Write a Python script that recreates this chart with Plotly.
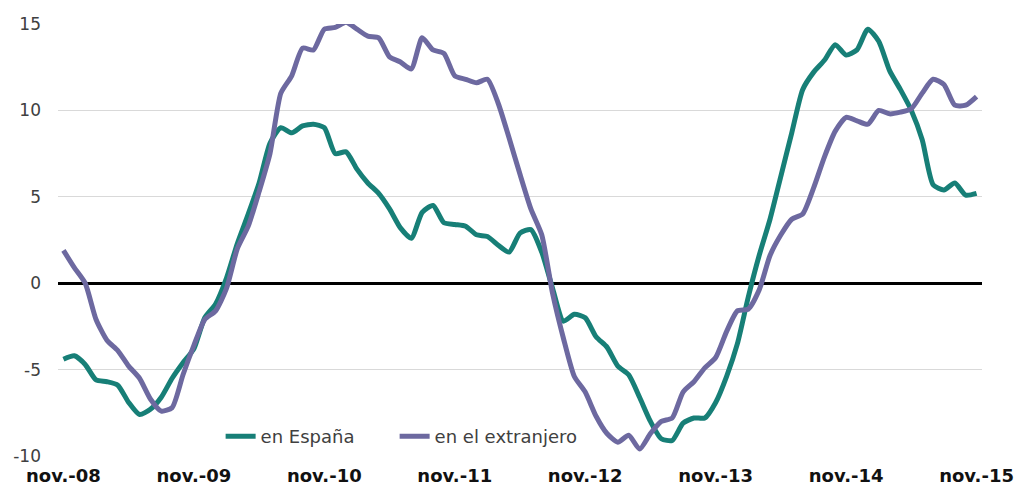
import plotly.graph_objects as go

meses = ["nov.", "dic.", "ene.", "feb.", "mar.", "abr.", "may.", "jun.", "jul.", "ago.", "sep.", "oct."]
# monthly categories Nov-08 .. Nov-15
categorias = []
for k in range(85):
    m = k % 12
    yr = 8 + (k + 10) // 12
    categorias.append(f"{meses[m]}-{yr:02d}")

tick_labels = ["nov.-08", "nov.-09", "nov.-10", "nov.-11", "nov.-12", "nov.-13", "nov.-14", "nov.-15"]
y_ticks = [-10, -5, 0, 5, 10, 15]
y_tick_labels = ["-10", "-5", "0", "5", "10", "15"]

en_espana = [
    -4.4, -4.2, -4.7, -5.6, -5.7, -5.9, -6.9, -7.6, -7.3, -6.6, -5.5, -4.6,
    -3.8, -2.0, -1.2, 0.3, 2.3, 4.0, 5.8, 8.1, 9.0, 8.7, 9.1, 9.2,
    9.0, 7.5, 7.6, 6.6, 5.8, 5.2, 4.3, 3.2, 2.6, 4.1, 4.5, 3.5,
    3.4, 3.3, 2.8, 2.7, 2.2, 1.8, 2.9, 3.1, 1.8, -0.3, -2.2, -1.8,
    -2.0, -3.1, -3.7, -4.8, -5.3, -6.6, -8.0, -9.0, -9.1, -8.1, -7.8, -7.8,
    -6.9, -5.4, -3.5, -0.8, 1.6, 3.7, 6.2, 8.7, 11.2, 12.2, 12.9, 13.8,
    13.2, 13.5, 14.7, 14.0, 12.3, 11.2, 10.0, 8.3, 5.7, 5.4, 5.8, 5.1,
    5.2,
]

en_extranjero = [
    1.9, 0.9, 0.0, -2.1, -3.3, -3.9, -4.8, -5.5, -6.7, -7.4, -7.2, -5.3,
    -3.6, -2.1, -1.6, -0.3, 2.0, 3.3, 5.3, 7.5, 11.0, 12.0, 13.6, 13.5,
    14.7, 14.8, 15.1, 14.7, 14.3, 14.2, 13.1, 12.8, 12.4, 14.2, 13.5, 13.3,
    12.0, 11.8, 11.6, 11.8, 10.4, 8.4, 6.3, 4.3, 2.8, -0.6, -3.2, -5.4,
    -6.3, -7.7, -8.7, -9.2, -8.8, -9.6, -8.7, -8.0, -7.8, -6.3, -5.7, -4.9,
    -4.3, -2.8, -1.6, -1.5, -0.4, 1.6, 2.8, 3.7, 4.0, 5.5, 7.3, 8.8,
    9.6, 9.4, 9.2, 10.0, 9.8, 9.9, 10.1, 11.0, 11.8, 11.5, 10.3, 10.3,
    10.8,
]

color_es = "#177f77"
color_ex = "#6d69a0"

fig = go.Figure()
fig.add_trace(go.Scatter(x=categorias, y=en_espana, mode="lines", name="en España",
                         legendwidth=129,
                         line=dict(color=color_es, width=5, shape="spline", smoothing=0.6)))
fig.add_trace(go.Scatter(x=categorias, y=en_extranjero, mode="lines", name="en el extranjero",
                         line=dict(color=color_ex, width=5, shape="spline", smoothing=0.6)))

fig.update_layout(
    width=1019, height=488,
    margin=dict(l=58, r=37, t=24, b=32),
    plot_bgcolor="white", paper_bgcolor="white",
    font=dict(family="DejaVu Sans", size=17, color="#404040"),
    showlegend=True,
    legend=dict(orientation="h", x=0.176, y=0.002, xanchor="left", yanchor="bottom",
                font=dict(size=18, color="#404040"), bgcolor="rgba(0,0,0,0)",
                itemwidth=30, tracegroupgap=0),
    xaxis=dict(type="category", range=[-0.5, 84.5], tickmode="array",
               tickvals=[categorias[i] for i in range(0, 85, 12)], ticktext=tick_labels,
               showgrid=False, showline=False, ticks="", zeroline=False, automargin=False,
               tickfont=dict(family="DejaVu Sans", size=18, color="#111111", weight="bold"),
               ticklabelstandoff=7),
    yaxis=dict(range=[-10, 15], tickmode="array", tickvals=y_ticks, ticktext=y_tick_labels,
               showgrid=True, gridcolor="#d9d9d9", gridwidth=1, zeroline=True,
               zerolinecolor="#000000", zerolinewidth=3, showline=False, ticks="",
               automargin=False,
               tickfont=dict(family="DejaVu Sans", size=17, color="#404040"),
               ticklabelstandoff=16),
)

fig.write_html("out.html", config={"displayModeBar": False},
               post_script="document.body.style.margin='0';")
